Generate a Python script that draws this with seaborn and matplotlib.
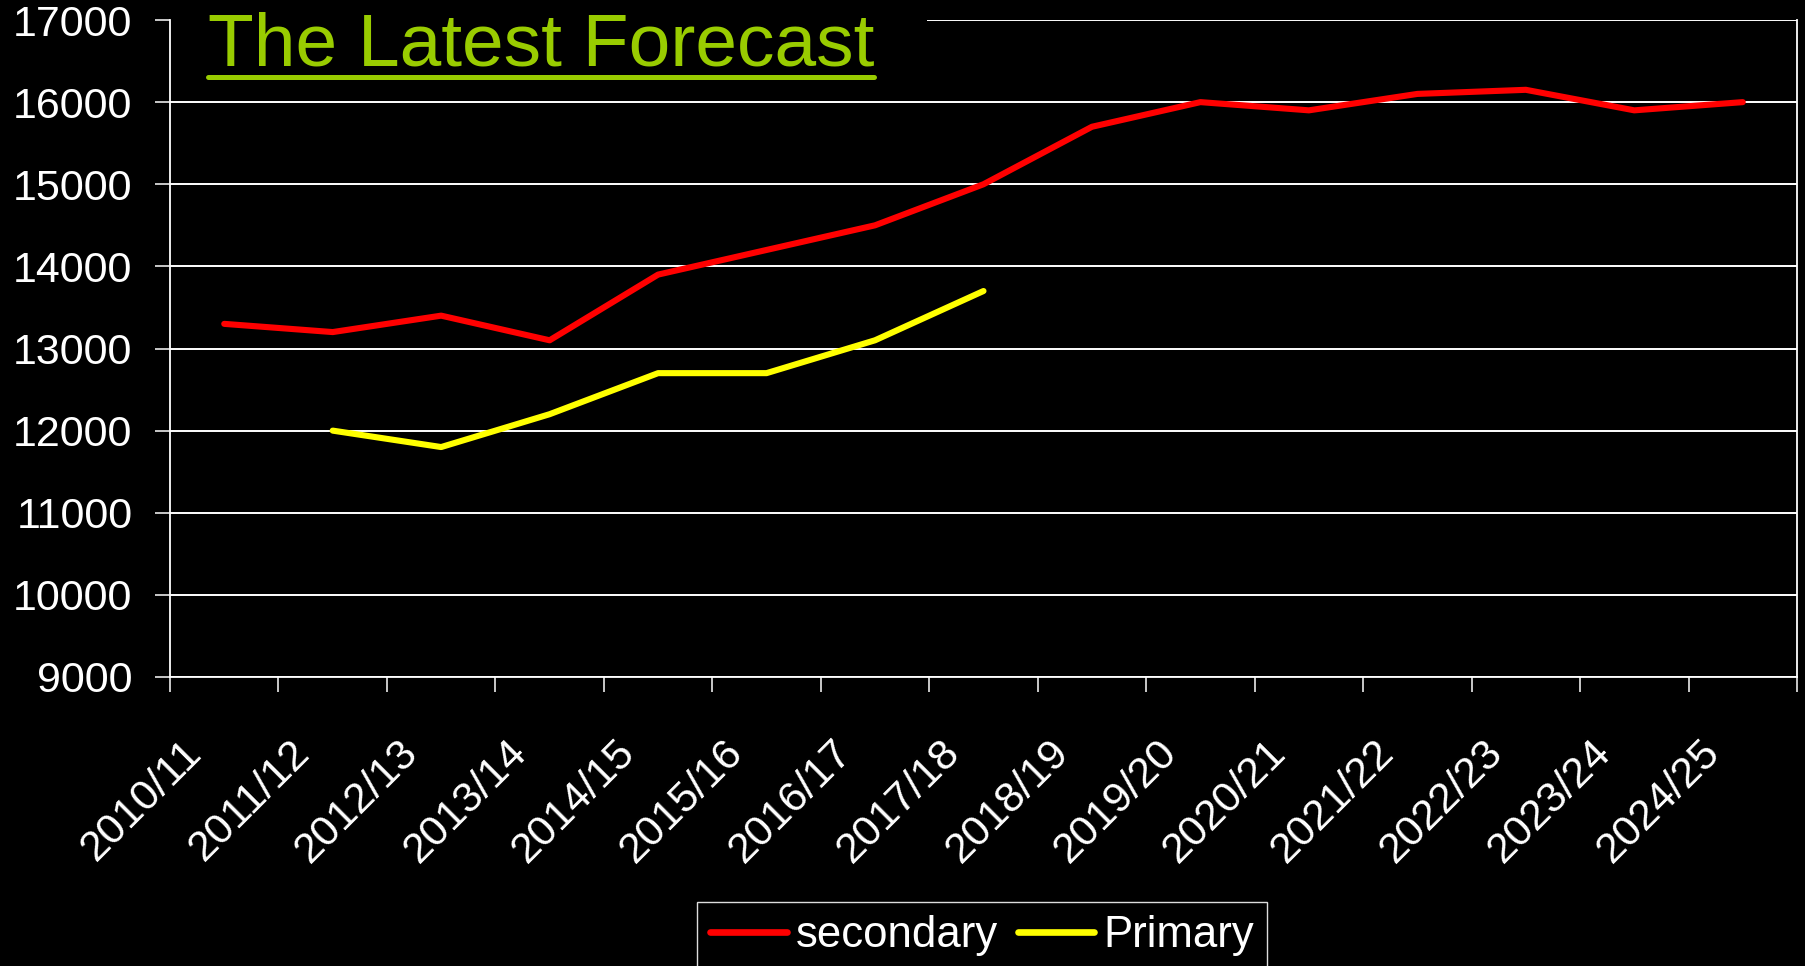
import numpy as np
import pandas as pd
import matplotlib
matplotlib.use("Agg")
import matplotlib.pyplot as plt
import matplotlib.transforms as mtransforms
from matplotlib.patches import Rectangle
from matplotlib.lines import Line2D
import seaborn as sns

# Data
years = ["2010/11", "2011/12", "2012/13", "2013/14", "2014/15", "2015/16",
         "2016/17", "2017/18", "2018/19", "2019/20", "2020/21", "2021/22",
         "2022/23", "2023/24", "2024/25"]
secondary = [13300, 13200, 13400, 13100, 13900, 14200, 14500, 15000,
             15700, 16000, 15900, 16100, 16150, 15900, 16000]
primary = [np.nan, 12000, 11800, 12200, 12700, 12700, 13100, 13700,
           np.nan, np.nan, np.nan, np.nan, np.nan, np.nan, np.nan]
series_names = ["secondary", "Primary"]
series_colors = ["#FF0000", "#FFFF00"]
y_ticks = [9000, 10000, 11000, 12000, 13000, 14000, 15000, 16000, 17000]
title_text = "The Latest Forecast"

sns.set_style("dark")
plt.rcParams["font.family"] = ["Liberation Sans", "DejaVu Sans"]

pos = np.arange(len(years))
df = pd.concat([
    pd.DataFrame({"x": pos, "value": secondary, "series": series_names[0]}),
    pd.DataFrame({"x": pos, "value": primary, "series": series_names[1]}),
]).dropna()

fig = plt.figure(figsize=(18.06, 9.66), dpi=100, facecolor="black")
ax = fig.add_axes([170 / 1806, 1 - 677 / 966, 1627 / 1806, 657 / 966])
ax.set_facecolor("black")

LW = 4.4
sns.lineplot(data=df, x="x", y="value", hue="series", hue_order=series_names,
             palette=series_colors, linewidth=LW, ax=ax, sort=False)

# axes styling
ax.set_xlim(-0.5, len(years) - 0.5)
ax.set_ylim(y_ticks[0], y_ticks[-1])
ax.set_yticks(y_ticks)
ax.set_xlabel("")
ax.set_ylabel("")
ax.set_axisbelow(True)
ax.grid(False)
ax.yaxis.grid(True, color="white", linewidth=1.4)

# ticks between categories, labels centred on categories
ax.set_xticks(np.arange(-0.5, len(years)), labels=[""] * (len(years) + 1))
ax.set_xticks(pos, labels=years, minor=True)
ax.tick_params(axis="x", which="major", direction="out", length=11, width=1.1,
               color="white", bottom=True)
ax.tick_params(axis="x", which="minor", length=0, pad=40, labelsize=31,
               labelcolor="white", bottom=True)
ax.tick_params(axis="y", direction="out", length=11, width=1.1, color="white",
               pad=16, labelsize=31, labelcolor="white", left=True)
shift = mtransforms.ScaledTranslation(-15 / 100, 0, fig.dpi_scale_trans)
for lab in ax.get_xticklabels(minor=True):
    lab.set_rotation(45)
    lab.set_ha("right")
    lab.set_transform(lab.get_transform() + shift)

for side in ["left", "right", "bottom"]:
    ax.spines[side].set_visible(True)
    ax.spines[side].set_color("white")
    ax.spines[side].set_linewidth(1.3)
ax.spines["top"].set_visible(False)

# legend at bottom
leg = ax.get_legend()
handles = leg.legend_handles
labels = [t.get_text() for t in leg.get_texts()]
leg.remove()
for h in handles:
    h.set_linewidth(LW + 0.4)
fig.legend(handles, labels, ncol=2, loc="upper center",
           bbox_to_anchor=(982 / 1806, 1 - 902 / 966), borderaxespad=0,
           frameon=True, facecolor="black", edgecolor="#DDDDDD", fontsize=31.5,
           labelcolor="white", handlelength=1.75, handletextpad=0.2,
           columnspacing=0.45, borderpad=0.3, fancybox=False, framealpha=1)

# title with black backing over the top gridline, underlined
ax.add_patch(Rectangle((0, 0.97), (927 - 170) / 1627, 0.06,
                       transform=ax.transAxes, facecolor="black",
                       edgecolor="none", zorder=1, clip_on=False))
title = fig.text(208 / 1806, 1 - 65 / 966, title_text, color="#99CC00",
                 fontsize=54, ha="left", va="baseline")
fig.canvas.draw()
bb = title.get_window_extent()
line_y = fig.bbox.height - 76.5
fig.add_artist(Line2D([bb.x0, bb.x1], [line_y, line_y], transform=None,
                      color="#99CC00", linewidth=3.6))

fig.savefig("out.png", dpi=100, facecolor="black")
